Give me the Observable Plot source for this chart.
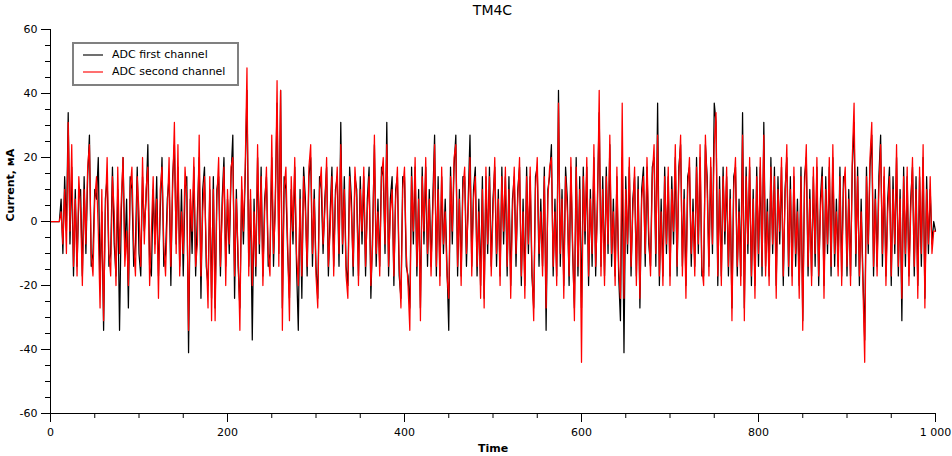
<!DOCTYPE html>
<html>
<head>
<meta charset="utf-8">
<script src="https://cdn.jsdelivr.net/npm/d3@7"></script>
<script src="https://cdn.jsdelivr.net/npm/@observablehq/plot@0.6"></script>
<style>
  body { margin: 0; background: #fff; font-family: "DejaVu Sans", sans-serif; }
  #wrap { position: relative; width: 952px; height: 456px; overflow: hidden; }
  #title { position: absolute; left: 50px; width: 885px; top: 2px; text-align: center; font-size: 14px; color: #000; }
  #chart { position: absolute; left: 0; top: 20px; }
  #legend { position: absolute; left: 72px; top: 42px; width: 163px; height: 40px; border: 2px solid #808080; background: #fff; font-size: 11px; color: #000; }
  .sw { position: absolute; left: 9px; width: 20px; height: 2px; }
  .lb { position: absolute; left: 38px; line-height: 13px; white-space: nowrap; }
</style>
</head>
<body>
<div id="wrap">
  <div id="title"></div>
  <div id="chart"></div>
  <div id="legend"></div>
</div>
<script>
const chartTitle = "TM4C";
const xLabel = "Time";
const yLabel = "Current, мА";
const seriesNames = ["ADC first channel", "ADC second channel"];
const seriesColors = ["#000000", "#ff0000"];
const legendSwatch = ["#707070", "#ff7070"];
const xMajorTicks = [0, 200, 400, 600, 800, 1000];
const xMinorTicks = [50, 100, 150, 250, 300, 350, 450, 500, 550, 650, 700, 750, 850, 900, 950];
const yMajorTicks = [-60, -40, -20, 0, 20, 40, 60];
const yMinorTicks = [-55, -50, -45, -35, -30, -25, -15, -10, -5, 5, 10, 15, 25, 30, 35, 45, 50, 55];
const sampleStep = 2; // time units between the samples listed below (0..1000)

// ADC first channel, mA, one value per sample
const channel1 = [
0,0,0,0,0,0,7,-10,14,-3,34,-7,17,-17,10,-14,7,10,-17,14,-10,14,27,-14,-10,
10,7,20,-20,3,-34,7,14,-14,-10,17,-7,-17,10,-34,3,20,-10,7,-27,14,10,-14,-7,17,
-10,-17,14,-3,7,24,-14,-17,10,-7,14,-17,3,20,-14,-10,7,14,-20,14,24,-7,17,-14,10,
-17,10,14,-41,7,-10,17,-17,3,20,-24,10,17,-14,-20,10,-24,14,-27,10,14,-17,7,20,-14,
7,-10,14,27,-24,10,-14,-27,10,-7,14,41,-14,7,-37,7,-17,20,-10,17,-17,7,14,-14,-10,
20,-14,7,37,-10,41,-27,14,10,-10,-24,10,-7,17,-14,-34,10,-24,17,7,-17,14,20,-14,10,
-14,-24,14,10,-10,7,17,-17,3,17,-14,10,14,-14,31,-10,14,-14,-20,17,7,-17,14,10,-17,
14,-7,14,-17,7,17,-24,-3,24,-14,7,-14,17,14,-10,31,-17,7,14,-20,10,14,-17,-24,14,
14,-14,-17,-27,17,-7,17,-17,10,-27,17,-7,17,-14,10,-14,7,27,-17,14,-17,14,-10,7,-14,
-34,17,-7,17,27,-17,10,-17,14,14,-14,7,27,-14,10,17,-17,7,-20,14,-24,14,-10,17,-14,
7,17,-14,10,-17,17,-7,14,-17,14,-20,7,14,-14,10,17,-20,7,-20,17,-10,14,-17,-27,14,
17,-14,7,-14,17,-34,10,14,24,-17,7,-17,41,-14,10,-20,17,7,-20,17,-10,-27,20,-17,14,
-27,17,-7,17,-20,10,-14,20,-17,7,34,-14,14,-17,17,-10,24,-14,7,-17,14,-17,-31,20,-41,
14,-10,17,-17,7,14,-17,14,-27,10,17,-14,17,-7,-14,17,20,-14,37,-20,7,-17,17,-10,14,
-17,14,-7,20,-17,17,24,-14,10,-20,14,17,-14,7,-14,20,-10,20,-17,-17,24,14,-14,17,-10,
37,31,-20,14,-17,17,-7,14,-17,10,-27,14,17,-17,7,-17,34,-27,17,-10,17,-20,10,-20,17,
-14,17,-17,31,-14,7,-17,20,-10,17,-20,14,-7,17,-20,10,20,-17,14,-17,14,-14,7,-20,17,
-31,14,20,-17,10,-17,14,-14,17,-20,7,17,-20,14,-10,17,-17,20,-14,7,-14,17,-17,14,14,
-17,10,-17,17,31,-14,17,-20,7,-17,-37,17,-10,17,27,-17,10,-14,14,27,-14,14,-17,7,17,
-20,14,-10,20,-17,10,-31,17,-14,14,-17,7,17,-17,14,-20,14,-14,20,-24,14,-10,10,-7,0,
-3
];

// ADC second channel, mA, one value per sample
const channel2 = [
0,0,0,0,0,0,3,-7,10,-10,31,-3,24,-14,7,-17,14,3,-20,10,-7,17,24,-10,-17,
7,14,-3,-27,10,-31,3,20,-10,-17,14,3,-20,17,-10,7,20,-14,-3,-20,10,17,-7,-17,14,
3,-14,20,-7,10,17,-20,-3,14,-10,7,-24,10,17,-7,-17,3,20,-14,10,31,-10,24,-17,3,
-10,17,7,-34,10,-3,20,-14,-7,27,-17,3,14,-10,-27,14,-31,10,-31,7,20,-14,3,17,-20,
10,-7,17,20,-17,7,-10,-34,14,-3,17,48,-17,10,-20,3,-14,24,-7,14,-20,3,17,-10,-17,
27,-10,3,44,-14,41,-34,10,17,-7,-31,14,-3,20,-10,-20,7,-17,14,3,-14,17,24,-10,7,
-17,-27,10,17,-7,3,20,-14,-3,14,-17,7,17,-10,24,-7,10,-17,-24,14,3,-14,17,7,-20,
10,-3,17,-14,3,14,-20,-7,27,-10,3,-17,14,20,-7,24,-14,3,10,-17,7,17,-14,-27,10,
17,-10,-20,-34,14,-3,20,-14,7,-31,14,-3,20,-10,7,-17,3,24,-14,10,-20,17,-7,3,-17,
-24,14,-3,20,24,-14,7,-20,10,17,-10,3,20,-17,7,14,-14,3,-24,10,-27,17,-7,14,-17,
3,20,-10,7,-20,14,-3,17,-14,10,-24,3,17,-10,7,20,-17,3,-24,14,-7,17,-14,-31,10,
20,-10,3,-17,14,-27,7,17,20,-14,3,-20,37,-10,7,-24,14,3,-17,20,-7,-31,17,-14,10,
-44,14,-3,20,-17,7,-10,24,-14,3,41,-17,10,-20,14,-7,27,-10,3,-20,17,-14,-24,37,-24,
10,-7,20,-14,3,17,-20,10,-24,7,14,-10,20,-3,-17,14,24,-10,27,-17,3,-20,14,-7,17,
-20,10,-3,24,-14,14,27,-17,7,-24,10,20,-10,3,-17,17,-7,24,-14,-20,27,10,-17,20,-7,
24,34,-17,10,-20,14,-3,17,-14,7,-31,10,20,-14,3,-20,27,-31,14,-7,20,-17,7,-24,14,
-10,20,-14,27,-17,3,-20,17,-7,14,-24,10,-3,20,-17,7,24,-14,10,-20,17,-10,3,-24,14,
-34,10,24,-14,7,-20,17,-10,20,-17,3,14,-24,10,-7,20,-14,24,-10,3,-17,14,-20,10,17,
-14,7,-20,20,37,-10,14,-17,3,-20,-44,14,-7,20,31,-14,7,-17,10,24,-10,17,-20,3,14,
-17,10,-7,24,-14,7,-24,14,-10,17,-20,3,20,-14,10,-24,17,-10,24,-27,10,-7,14,-10,-3,
-3
];

document.getElementById("title").textContent = chartTitle;

const fmt = d3.formatLocale({decimal: ".", thousands: " ", grouping: [3], currency: ["", ""], minus: "-"}).format(",");
const xOf = (d, i) => i * sampleStep;

const plot = Plot.plot({
  width: 952,
  height: 436,
  marginLeft: 50,
  marginRight: 17,
  marginTop: 9,
  marginBottom: 43,
  style: {fontFamily: "DejaVu Sans, sans-serif", fontSize: "11px", color: "#000", background: "#fff", overflow: "visible"},
  x: {domain: [0, 1000]},
  y: {domain: [-60, 60]},
  marks: [
    Plot.lineY(channel1, {x: xOf, y: d => d, stroke: seriesColors[0], strokeWidth: 1.25}),
    Plot.lineY(channel2, {x: xOf, y: d => d, stroke: seriesColors[1], strokeWidth: 1.25}),
    Plot.ruleX([0], {stroke: "#000"}),
    Plot.ruleY([-60], {stroke: "#000"}),
    Plot.axisY({ticks: yMajorTicks, tickSize: 9, tickPadding: 4, tickFormat: fmt, label: null, stroke: "#000", fill: "#000"}),
    Plot.axisY({ticks: yMinorTicks, tickSize: 5, text: null, label: null, stroke: "#000"}),
    Plot.axisX({ticks: xMajorTicks, tickSize: 9, tickPadding: 6, tickFormat: fmt, label: null, stroke: "#000", fill: "#000"}),
    Plot.axisX({ticks: xMinorTicks, tickSize: 5, text: null, label: null, stroke: "#000"}),
    Plot.text([yLabel], {frameAnchor: "left", dx: -40, rotate: -90, fontWeight: "bold", fill: "#000"}),
    Plot.text([xLabel], {frameAnchor: "bottom", dy: 38, fontWeight: "bold", fill: "#000"})
  ]
});
document.getElementById("chart").appendChild(plot);

const legend = document.getElementById("legend");
seriesNames.forEach((name, i) => {
  const top = i === 0 ? 10 : 27;
  const sw = document.createElement("div");
  sw.className = "sw";
  sw.style.top = top + "px";
  sw.style.background = legendSwatch[i];
  legend.appendChild(sw);
  const lb = document.createElement("div");
  lb.className = "lb";
  lb.style.top = (top - 6) + "px";
  lb.textContent = name;
  legend.appendChild(lb);
});
</script>
</body>
</html>
